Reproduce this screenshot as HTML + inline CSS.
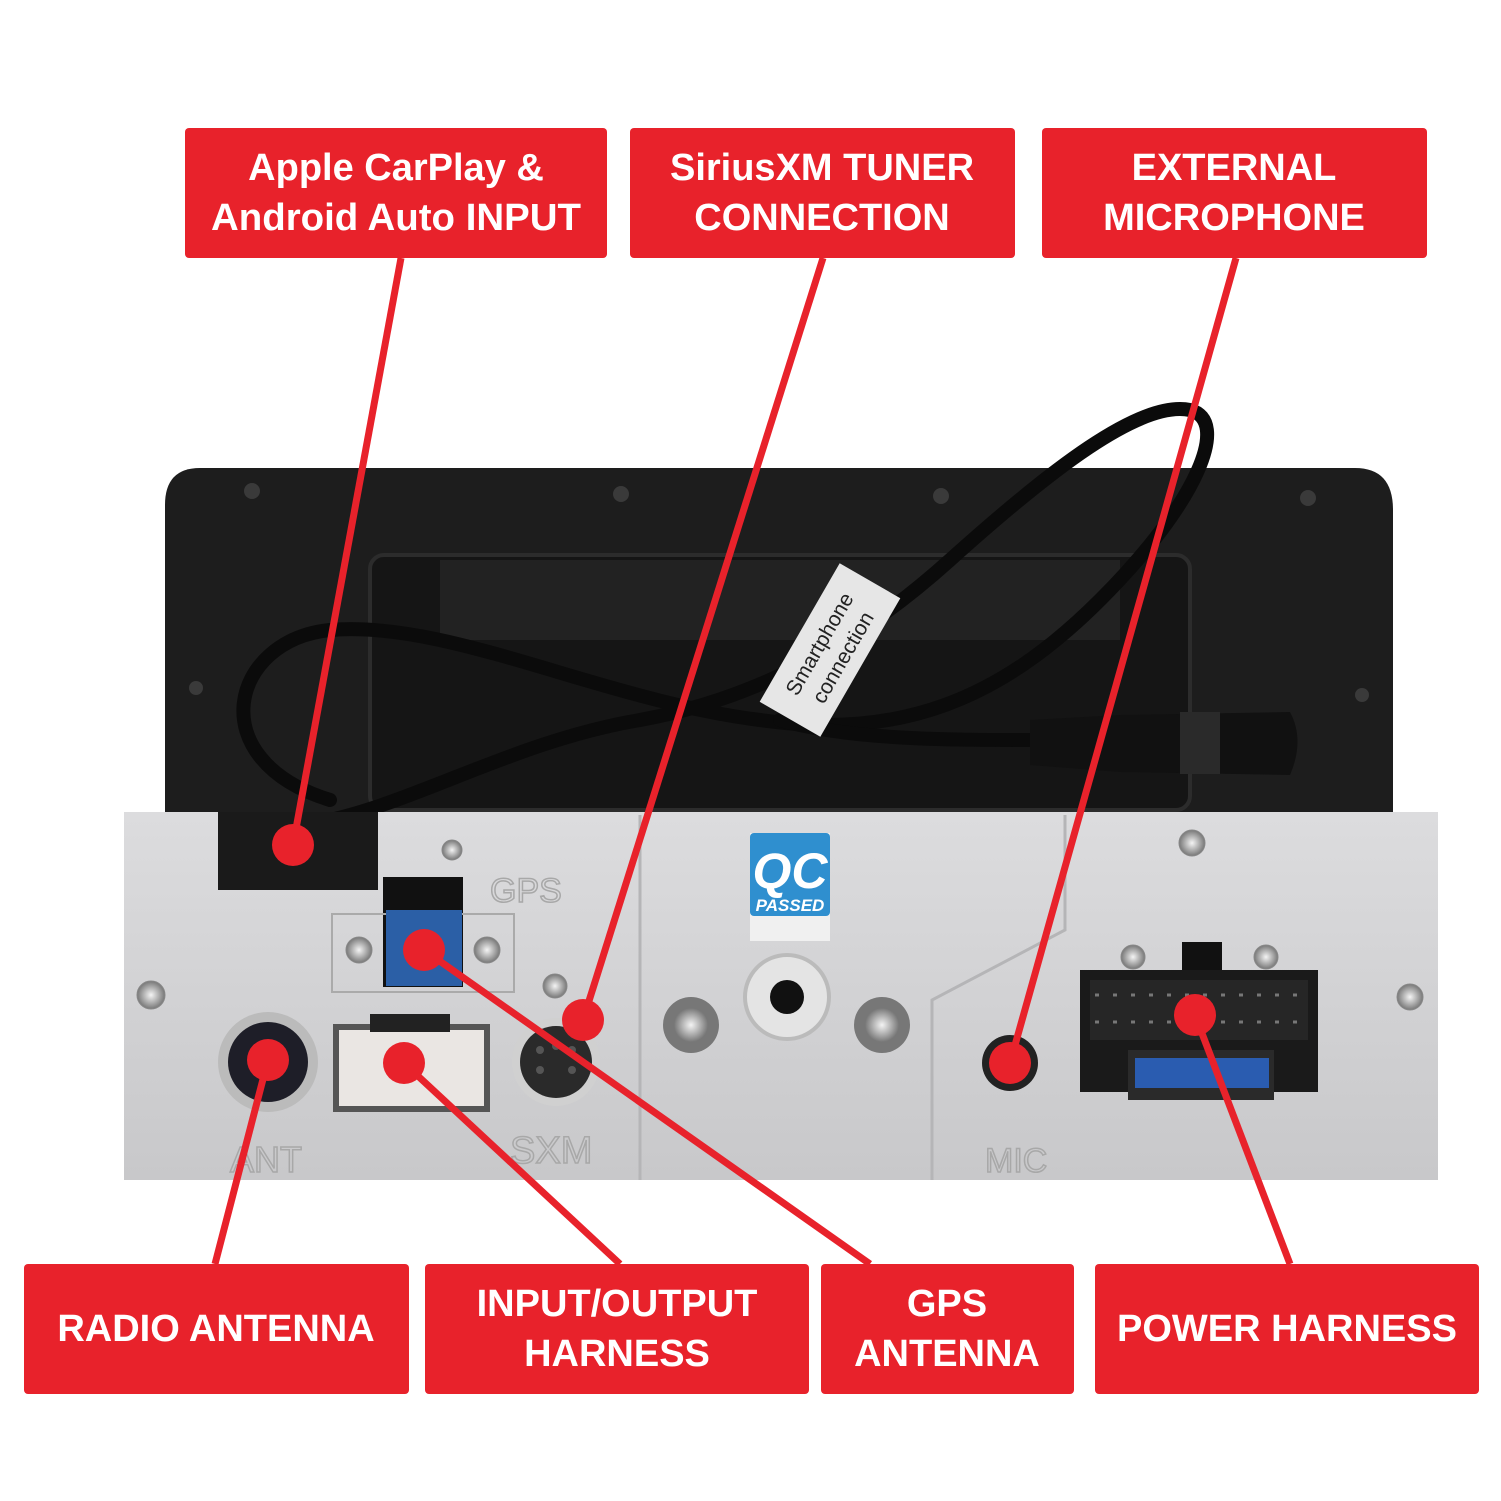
<!DOCTYPE html>
<html><head><meta charset="utf-8"><style>
html,body{margin:0;padding:0;background:#fff;}
svg{display:block;}
text{font-family:"Liberation Sans",sans-serif;}
</style></head><body>
<svg width="1501" height="1501" viewBox="0 0 1501 1501" xmlns="http://www.w3.org/2000/svg">
<defs>
<linearGradient id="silver" x1="0" y1="0" x2="0" y2="1">
<stop offset="0" stop-color="#dcdcde"/><stop offset="1" stop-color="#c8c8ca"/></linearGradient>
<radialGradient id="screw"><stop offset="0" stop-color="#f4f4f4"/><stop offset="1" stop-color="#777"/></radialGradient>
</defs>
<rect width="1501" height="1501" fill="#fff"/>
<path d="M200 468 H1355 Q1393 468 1393 510 V815 H165 V505 Q165 468 200 468Z" fill="#1d1d1d"/>
<rect x="370" y="555" width="820" height="255" rx="14" fill="#151515" stroke="#2c2c2c" stroke-width="4"/>
<rect x="440" y="560" width="680" height="80" fill="#222"/>
<g fill="#3a3a3a"><circle cx="252" cy="491" r="8"/><circle cx="621" cy="494" r="8"/><circle cx="941" cy="496" r="8"/><circle cx="1308" cy="498" r="8"/><circle cx="196" cy="688" r="7"/><circle cx="1362" cy="695" r="7"/></g>
<g fill="none" stroke="#0b0b0b" stroke-width="14" stroke-linecap="round">
<path d="M330 800 C200 760 230 640 330 630 C450 620 600 700 760 720 C900 740 1000 700 1100 600 C1200 500 1230 420 1190 410 C1140 400 1050 470 950 560 C850 650 750 700 640 720 C520 740 420 800 330 820"/>
<path d="M780 720 C850 740 950 740 1030 740"/>
</g>
<path d="M1030 720 L1120 715 L1290 712 Q1305 740 1290 775 L1120 772 L1030 765Z" fill="#111"/>
<rect x="1180" y="712" width="40" height="62" fill="#2a2a2a"/>
<g transform="translate(830 650) rotate(-60)"><rect x="-80" y="-35" width="160" height="70" fill="#e6e6e6"/>
<text x="0" y="-5" font-size="21" text-anchor="middle" fill="#222" font-family="Liberation Mono">Smartphone</text>
<text x="0" y="22" font-size="21" text-anchor="middle" fill="#222" font-family="Liberation Mono">connection</text></g>
<rect x="124" y="812" width="1314" height="368" fill="url(#silver)"/>
<line x1="640" y1="815" x2="640" y2="1180" stroke="#b5b5b7" stroke-width="3"/>
<path d="M932 1180 V1000 L1065 930 V815" fill="none" stroke="#b5b5b7" stroke-width="3"/>
<rect x="218" y="812" width="160" height="78" fill="#1a1a1a"/>
<rect x="383" y="877" width="80" height="110" fill="#111"/>
<rect x="332" y="914" width="182" height="78" fill="none" stroke="#aaa" stroke-width="2"/>
<rect x="386" y="910" width="76" height="76" fill="#2b5fa6"/>
<circle cx="424" cy="950" r="20" fill="#ddd"/>
<text x="490" y="902" font-size="34" fill="none" stroke="#a8a8a8" stroke-width="1.5">GPS</text>
<text x="230" y="1172" font-size="36" fill="none" stroke="#a8a8a8" stroke-width="1.5">ANT</text>
<text x="510" y="1163" font-size="38" fill="none" stroke="#a8a8a8" stroke-width="1.5">SXM</text>
<text x="985" y="1172" font-size="34" fill="none" stroke="#a8a8a8" stroke-width="1.5">MIC</text>
<circle cx="268" cy="1062" r="50" fill="#bbb"/><circle cx="268" cy="1062" r="40" fill="#1e1e28"/>
<rect x="333" y="1024" width="157" height="88" fill="#555"/><rect x="339" y="1030" width="145" height="76" fill="#eae6e3"/>
<rect x="370" y="1014" width="80" height="18" fill="#222"/>
<circle cx="556" cy="1062" r="44" fill="#d0d0d0"/><circle cx="556" cy="1062" r="36" fill="#2a2a2a"/>
<g fill="#555"><circle cx="540" cy="1050" r="4"/><circle cx="556" cy="1046" r="4"/><circle cx="572" cy="1050" r="4"/><circle cx="540" cy="1070" r="4"/><circle cx="572" cy="1070" r="4"/></g>
<g fill="url(#screw)" stroke="#888"><circle cx="151" cy="995" r="14"/><circle cx="359" cy="950" r="13"/><circle cx="487" cy="950" r="13"/><circle cx="555" cy="986" r="12"/><circle cx="1192" cy="843" r="13"/><circle cx="1410" cy="997" r="13"/><circle cx="1133" cy="957" r="12"/><circle cx="1266" cy="957" r="12"/><circle cx="452" cy="850" r="10"/></g>
<circle cx="691" cy="1025" r="28" fill="#777"/><circle cx="691" cy="1025" r="17" fill="url(#screw)"/>
<circle cx="882" cy="1025" r="28" fill="#777"/><circle cx="882" cy="1025" r="17" fill="url(#screw)"/>
<circle cx="787" cy="997" r="42" fill="#e4e4e4" stroke="#bbb" stroke-width="4"/><circle cx="787" cy="997" r="17" fill="#111"/>
<rect x="750" y="833" width="80" height="108" fill="#f0f0f0"/>
<rect x="750" y="833" width="80" height="83" rx="4" fill="#2f8fcf"/>
<text x="790" y="888" font-size="50" font-weight="bold" font-style="italic" fill="#fff" text-anchor="middle">QC</text>
<text x="790" y="911" font-size="17" font-weight="bold" font-style="italic" fill="#fff" text-anchor="middle">PASSED</text>
<circle cx="1010" cy="1063" r="28" fill="#222"/>
<rect x="1182" y="942" width="40" height="32" fill="#111"/>
<rect x="1080" y="970" width="238" height="122" fill="#1a1a1a"/>
<rect x="1090" y="980" width="218" height="60" fill="#262626"/>
<g stroke="#777" stroke-width="3" stroke-dasharray="4 14"><line x1="1095" y1="995" x2="1300" y2="995"/><line x1="1095" y1="1022" x2="1300" y2="1022"/></g>
<rect x="1128" y="1050" width="146" height="50" fill="#2a2a2a"/>
<rect x="1135" y="1058" width="134" height="30" fill="#2a5cb0"/>
<g stroke="#e8222b" stroke-width="7" fill="none">
<line x1="401" y1="258" x2="293" y2="845"/><line x1="823" y1="258" x2="583" y2="1020"/><line x1="1236" y1="258" x2="1010" y2="1063"/>
<line x1="215" y1="1264" x2="268" y2="1060"/><line x1="620" y1="1264" x2="404" y2="1063"/><line x1="870" y1="1264" x2="424" y2="950"/><line x1="1290" y1="1264" x2="1195" y2="1015"/>
</g>
<g fill="#e8222b"><circle cx="293" cy="845" r="21"/><circle cx="583" cy="1020" r="21"/><circle cx="1010" cy="1063" r="21"/><circle cx="268" cy="1060" r="21"/><circle cx="404" cy="1063" r="21"/><circle cx="424" cy="950" r="21"/><circle cx="1195" cy="1015" r="21"/></g>
<g fill="#e8222b">
<rect x="185" y="128" width="422" height="130" rx="4"/><rect x="630" y="128" width="385" height="130" rx="4"/><rect x="1042" y="128" width="385" height="130" rx="4"/>
<rect x="24" y="1264" width="385" height="130" rx="4"/><rect x="425" y="1264" width="384" height="130" rx="4"/><rect x="821" y="1264" width="253" height="130" rx="4"/><rect x="1095" y="1264" width="384" height="130" rx="4"/>
</g>
<g fill="#fff" font-weight="bold" font-size="38" text-anchor="middle">
<text x="396" y="180">Apple CarPlay &amp;</text><text x="396" y="230" textLength="370" lengthAdjust="spacingAndGlyphs">Android Auto INPUT</text>
<text x="822" y="180">SiriusXM TUNER</text><text x="822" y="230">CONNECTION</text>
<text x="1234" y="180">EXTERNAL</text><text x="1234" y="230">MICROPHONE</text>
<text x="216" y="1341">RADIO ANTENNA</text>
<text x="617" y="1316">INPUT/OUTPUT</text><text x="617" y="1366">HARNESS</text>
<text x="947" y="1316">GPS</text><text x="947" y="1366">ANTENNA</text>
<text x="1287" y="1341">POWER HARNESS</text>
</g>
</svg>
</body></html>
